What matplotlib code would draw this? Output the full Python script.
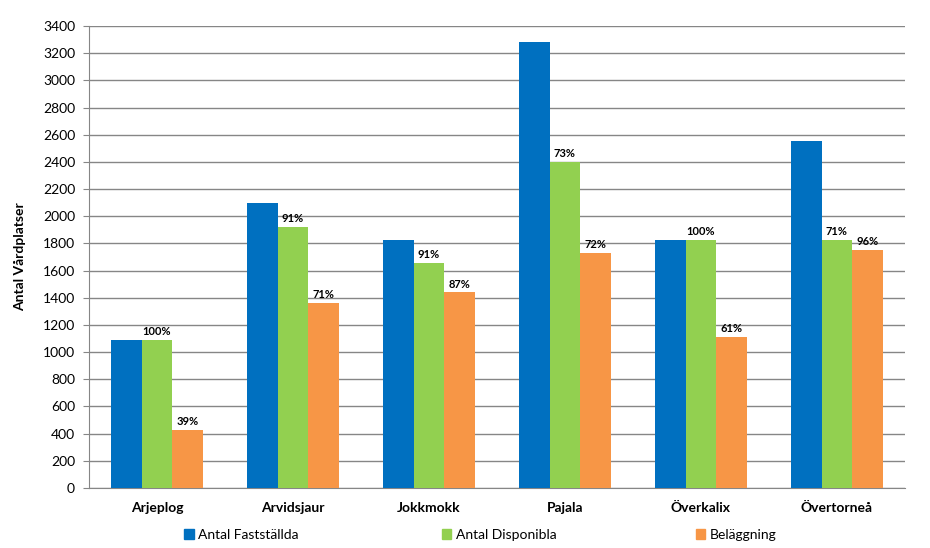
import numpy as np
import matplotlib
matplotlib.use("Agg")
from matplotlib import pyplot as plt
from matplotlib.patches import Patch

plt.rcParams['font.family'] = ['Lato', 'DejaVu Sans']

kommuner = ['Arjeplog', 'Arvidsjaur', 'Jokkmokk', 'Pajala', 'Överkalix', 'Övertorneå']
faststallda = [1090, 2095, 1825, 3285, 1825, 2555]
disponibla = [1090, 1920, 1655, 2400, 1825, 1825]
belaggning = [425, 1365, 1440, 1730, 1110, 1750]
disp_pct = ['100%', '91%', '91%', '73%', '100%', '71%']
bel_pct = ['39%', '71%', '87%', '72%', '61%', '96%']

c_blue = '#0070C0'
c_green = '#92D050'
c_orange = '#F79646'
c_grid = '#868686'

fig = plt.figure(figsize=(9.3, 5.48), dpi=100)
ax = fig.add_axes([0.0957, 0.1095, 0.8773, 0.8431])

x = np.arange(len(kommuner))
w = 0.225

b1 = ax.bar(x - w, faststallda, w, color=c_blue, zorder=3)
b2 = ax.bar(x, disponibla, w, color=c_green, zorder=3)
b3 = ax.bar(x + w, belaggning, w, color=c_orange, zorder=3)

ax.bar_label(b2, labels=disp_pct, padding=2, fontsize=8, fontweight='bold')
ax.bar_label(b3, labels=bel_pct, padding=2, fontsize=8, fontweight='bold')

ax.set_xlim(-0.5, len(kommuner) - 0.5)
ax.set_ylim(0, 3400)
ax.set_yticks(np.arange(0, 3401, 200))
ax.set_xticks(x)
ax.set_xticklabels(kommuner, fontsize=10, fontweight='bold')
ax.tick_params(axis='y', labelsize=10, length=4, color=c_grid, pad=6)
ax.tick_params(axis='x', length=0, pad=10)

ax.grid(True, axis='y', color=c_grid, linewidth=1, zorder=0)
for s in ['top', 'right']:
    ax.spines[s].set_visible(False)
ax.spines['left'].set_color(c_grid)
ax.spines['bottom'].set_color(c_grid)

ax.set_ylabel('Antal Vårdplatser', fontsize=10, fontweight='bold', labelpad=12)

legend_items = [('Antal Fastställda', c_blue, 0.198),
                ('Antal Disponibla', c_green, 0.475),
                ('Beläggning', c_orange, 0.748)]
for label, col, xpos in legend_items:
    fig.legend(handles=[Patch(color=col, label=label)], loc='center left',
               bbox_to_anchor=(xpos, 0.024), frameon=False, fontsize=10,
               handlelength=0.7, handleheight=0.7, handletextpad=0.3,
               borderpad=0, borderaxespad=0)

fig.savefig('out.png', dpi=100)
